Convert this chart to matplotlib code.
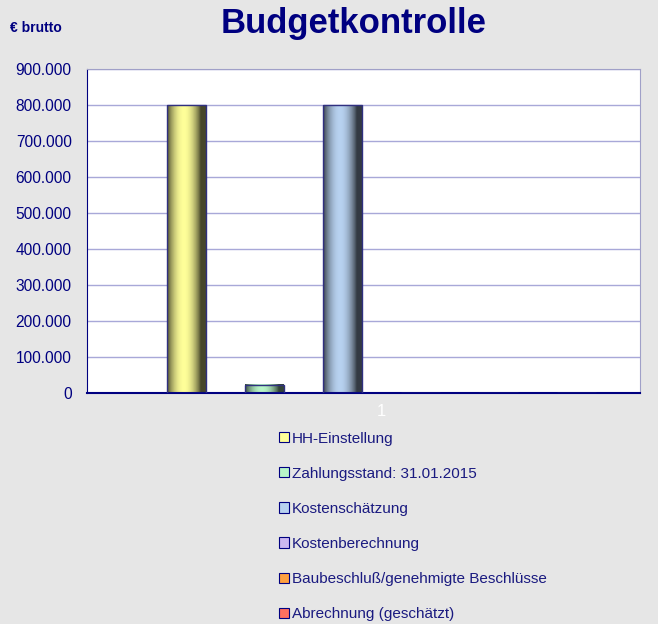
import matplotlib.pyplot as plt
import numpy as np
from matplotlib.patches import Patch
from matplotlib.ticker import FuncFormatter

plt.rcParams['font.family'] = ['Liberation Sans', 'DejaVu Sans']

series = ['HH-Einstellung', 'Zahlungsstand: 31.01.2015', 'Kostenschätzung',
          'Kostenberechnung', 'Baubeschluß/genehmigte Beschlüsse',
          'Abrechnung (geschätzt)']
values = [800000, 23000, 800000, 0, 0, 0]
colors = ['#FFFF99', '#B8F5C8', '#B8D2F0', '#CCB8F0', '#FFA040', '#FF7060']
category = '1'

navy = '#000080'
fig = plt.figure(figsize=(6.58, 6.24), dpi=100, facecolor='#E6E6E6')
ax = fig.add_axes([87 / 658, 1 - 393 / 624, 553 / 658, 324 / 624])
ax.set_facecolor('white')

x = np.arange(len(values))
width = 0.5
bars = ax.bar(x, values, width=width, color='none', edgecolor='#303080',
              linewidth=1, zorder=3)

# cylinder-like shading for each bar
t = np.linspace(0, 1, 64)
shade = 0.28 + 0.72 * np.clip(np.sin(np.pi * np.clip(t * 1.15, 0, 1)), 0, 1) ** 0.8
for b, c in zip(bars, colors):
    h = b.get_height()
    if h <= 0:
        continue
    rgb = np.array(plt.matplotlib.colors.to_rgb(c))
    img = (shade[:, None] * rgb[None, :])[None, :, :]
    x0 = b.get_x()
    ax.imshow(img, extent=[x0, x0 + b.get_width(), 0, h], aspect='auto',
              zorder=2, interpolation='bilinear')

ax.set_xlim(-1.27, 5.82)
ax.set_ylim(0, 900000)
ax.set_yticks(np.arange(0, 900001, 100000))
ax.yaxis.set_major_formatter(FuncFormatter(lambda v, p: f'{int(v):,}'.replace(',', '.')))
ax.set_xticks([2.5])
ax.set_xticklabels([category])
ax.tick_params(axis='x', length=0, colors='white', labelsize=12, pad=8)
ax.tick_params(axis='y', length=0, labelcolor=navy, labelsize=11.2, pad=11)
ax.grid(axis='y', color='#A8A8D8', linewidth=1, zorder=0)
ax.set_axisbelow(True)

for s in ['top', 'right']:
    ax.spines[s].set_color('#A0A0C8')
ax.spines['left'].set_color(navy)
ax.spines['bottom'].set_color(navy)
ax.spines['bottom'].set_linewidth(1.5)

fig.text(0.537, 0.962, 'Budgetkontrolle', ha='center', va='center',
         fontsize=25, fontweight='bold', color=navy)
fig.text(0.015, 0.955, '€ brutto', ha='left', va='center',
         fontsize=10, fontweight='bold', color=navy)

handles = [Patch(facecolor=c, edgecolor=navy, linewidth=0.8) for c in colors]
leg = fig.legend(handles, series, loc='upper left', bbox_to_anchor=(0.415, 0.318),
                 frameon=False, fontsize=11, labelspacing=1.38,
                 handlelength=0.65, handleheight=0.65, handletextpad=0.2,
                 borderaxespad=0)
for txt in leg.get_texts():
    txt.set_color('#1A1A80')

fig.savefig('out.png', dpi=100, facecolor=fig.get_facecolor())
